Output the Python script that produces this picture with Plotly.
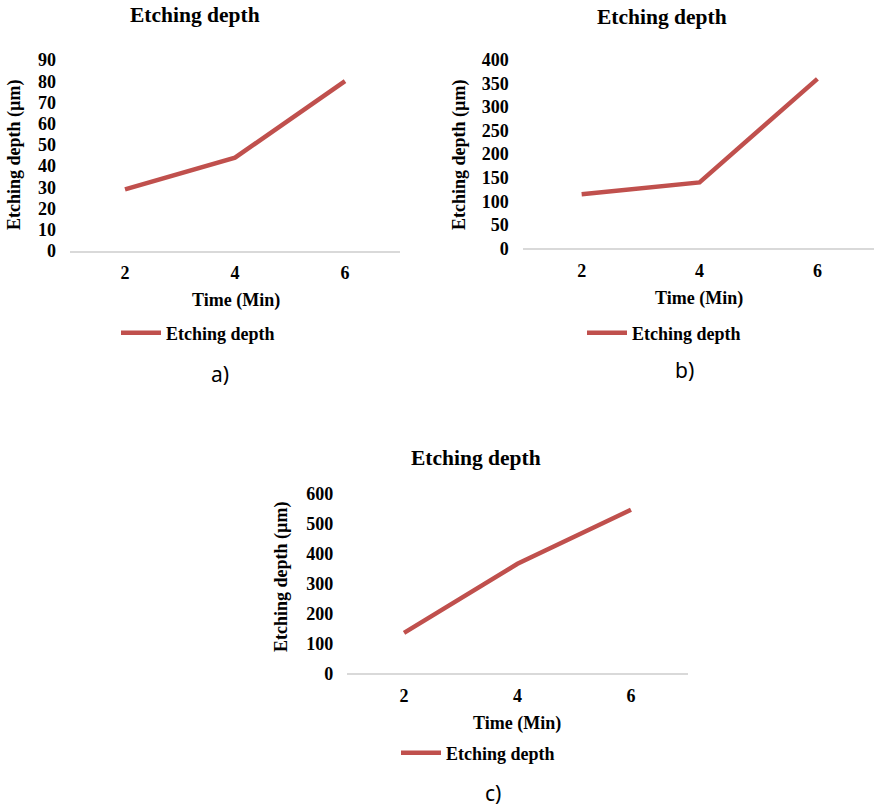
import plotly.graph_objects as go

# Etching time (min) and measured etching depth (µm) for three samples
time_min = ["2", "4", "6"]
depth_a = [29, 44, 80]
depth_b = [115, 140, 360]
depth_c = [135, 365, 545]

chart_title = "Etching depth"
y_title = "Etching depth (µm)"
x_title = "Time (Min)"
series_name = "Etching depth"
panel_labels = ["a)", "b)", "c)"]

W, H = 874, 810
RED = "#C0504D"
AXIS_GREY = "#D9D9D9"
SERIF = "Liberation Serif"


def px(x):
    return x / W


def py(y):
    return 1 - y / H


fig = go.Figure()

panels = [
    dict(vals=depth_a, xa="x", ya="y", lg="legend", xd=(70, 400), yd=(60, 251),
         yr=[0, 90], dt=10, xr=[-0.5, 2.5]),
    dict(vals=depth_b, xa="x2", ya="y2", lg="legend2", xd=(522.7, 874), yd=(60, 248.3),
         yr=[0, 400], dt=50, xr=[-0.5, 2.48]),
    dict(vals=depth_c, xa="x3", ya="y3", lg="legend3", xd=(347.3, 687.7), yd=(493.3, 673.3),
         yr=[0, 600], dt=100, xr=[-0.5, 2.5]),
]

for i, p in enumerate(panels):
    fig.add_trace(go.Scatter(
        x=time_min, y=p["vals"], mode="lines", name=series_name,
        line=dict(color=RED, width=4.5),
        xaxis=p["xa"], yaxis=p["ya"], legend=p["lg"], showlegend=True,
    ))
    sfx = "" if i == 0 else str(i + 1)
    fig.update_layout(**{
        "xaxis" + sfx: dict(
            domain=[px(p["xd"][0]), px(p["xd"][1])],
            anchor="y" + sfx, type="category", range=p["xr"],
            showline=True, linecolor=AXIS_GREY, linewidth=1.5,
            showgrid=False, zeroline=False, ticks="", automargin=False,
            ticklabelstandoff=5,
            tickfont=dict(family=SERIF, size=18, color="#000", weight="bold"),
        ),
        "yaxis" + sfx: dict(
            domain=[py(p["yd"][1]), py(p["yd"][0])],
            anchor="x" + sfx, range=p["yr"], dtick=p["dt"], tick0=0,
            showline=False, showgrid=False, zeroline=False, ticks="", automargin=False,
            ticklabelstandoff=13,
            tickfont=dict(family=SERIF, size=18, color="#000", weight="bold"),
        ),
    })

legend_common = dict(
    orientation="h", yanchor="middle", xanchor="left",
    bgcolor="rgba(0,0,0,0)", borderwidth=0, itemwidth=40,
    font=dict(family=SERIF, size=18, color="#000", weight="bold"),
)
fig.update_layout(
    legend=dict(x=px(116), y=py(333), **legend_common),
    legend2=dict(x=px(582), y=py(333), **legend_common),
    legend3=dict(x=px(396), y=py(753), **legend_common),
)

annotations = []
# chart titles
for (cx, cy) in [(195, 15), (662, 17), (476, 458)]:
    annotations.append(dict(
        x=px(cx), y=py(cy), xref="paper", yref="paper", text=chart_title,
        showarrow=False, xanchor="center", yanchor="middle",
        font=dict(family=SERIF, size=21.5, color="#000", weight="bold"),
    ))
# x-axis titles
for (cx, cy) in [(236, 300), (699, 298), (517, 723)]:
    annotations.append(dict(
        x=px(cx), y=py(cy), xref="paper", yref="paper", text=x_title,
        showarrow=False, xanchor="center", yanchor="middle",
        font=dict(family=SERIF, size=18, color="#000", weight="bold"),
    ))
# y-axis titles
for (cx, cy) in [(15, 155), (460, 155), (281, 577)]:
    annotations.append(dict(
        x=px(cx), y=py(cy), xref="paper", yref="paper", text=y_title,
        showarrow=False, xanchor="center", yanchor="middle", textangle=-90,
        font=dict(family=SERIF, size=18, color="#000", weight="bold"),
    ))
# panel labels
for lbl, (cx, cy) in zip(panel_labels, [(220, 374), (684, 370), (493, 793)]):
    annotations.append(dict(
        x=px(cx), y=py(cy), xref="paper", yref="paper", text=lbl,
        showarrow=False, xanchor="center", yanchor="middle",
        font=dict(family="Noto Sans", size=21, color="#000"),
    ))

fig.update_layout(
    width=W, height=H,
    margin=dict(l=0, r=0, t=0, b=0, autoexpand=False),
    paper_bgcolor="white", plot_bgcolor="white",
    annotations=annotations,
    hovermode=False,
)

fig.write_html("out.html")
